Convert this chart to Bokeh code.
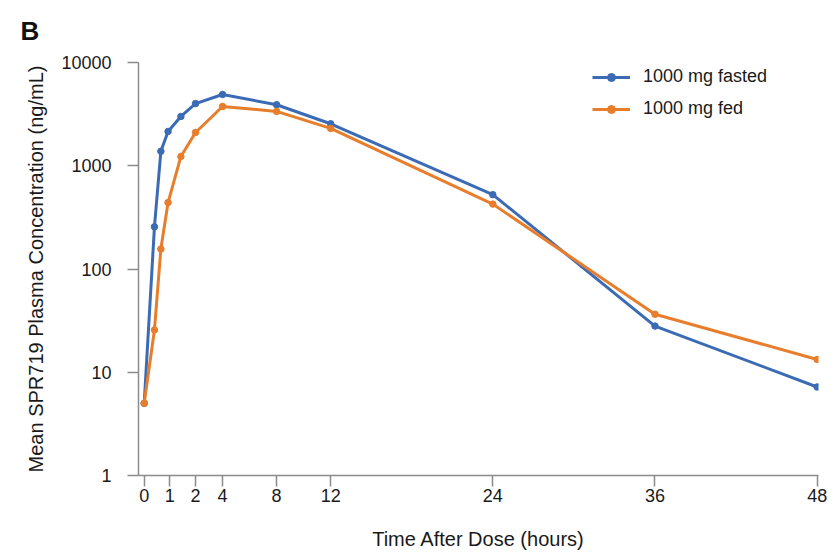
from bokeh.plotting import figure
from bokeh.models import (Range1d, FixedTicker, CustomJSTickFormatter, NumeralTickFormatter,
                          Legend, LegendItem, Title)
from bokeh.embed import file_html
from bokeh.resources import INLINE

# ---- data ----
time_h = [0, 0.4, 0.65, 0.93, 1.43, 2, 4, 8, 12, 24, 36, 48]
fasted = [5.0, 256, 1380, 2150, 3000, 4000, 4900, 3900, 2550, 525, 28.0, 7.2]
fed = [5.0, 25.7, 156, 440, 1230, 2100, 3750, 3360, 2300, 425, 36.5, 13.3]
x_ticks_h = [0, 1, 2, 4, 8, 12, 24, 36, 48]
y_ticks = [1, 10, 100, 1000, 10000]
series_names = ["1000 mg fasted", "1000 mg fed"]
colors = ["#3b6bb4", "#e87d2b"]

# axis is stretched below 2 h (broken-style time scale)
STRETCH = 1.9


def xmap(t):
    return t if t >= 2 else 2 - (2 - t) * STRETCH


FONT = "Liberation Sans"

p = figure(width=839, height=553, y_axis_type="log",
           x_range=Range1d(xmap(0) - 0.42, 48.1), y_range=Range1d(1, 10000),
           output_backend="svg", toolbar_location=None,
           min_border_left=138, min_border_right=21, min_border_top=61, min_border_bottom=78)
p.outline_line_color = None
p.grid.visible = False
p.background_fill_color = "white"

items = []
for name, vals, c in zip(series_names, [fasted, fed], colors):
    xs = [xmap(t) for t in time_h]
    r1 = p.line(xs, vals, line_color=c, line_width=3)
    r2 = p.scatter(xs, vals, size=6.5, fill_color=c, line_color=c)
    items.append(LegendItem(label=name, renderers=[r1, r2]))

legend = Legend(items=items, location=(454, 356), padding=0, margin=0,
                border_line_color=None, background_fill_alpha=0,
                glyph_width=38, glyph_height=20, label_height=20, spacing=11,
                label_standoff=13, label_text_font=FONT, label_text_font_size="18px",
                label_text_color="#1a1a1a")
p.add_layout(legend)

AXIS_COLOR = "#8c8c8c"
for ax in (p.xaxis[0], p.yaxis[0]):
    ax.axis_line_color = AXIS_COLOR
    ax.axis_line_width = 1.5
    ax.major_tick_line_color = AXIS_COLOR
    ax.major_tick_line_width = 1.5
    ax.major_tick_out = 11
    ax.major_tick_in = 0
    ax.minor_tick_line_color = None
    ax.major_label_text_font = FONT
    ax.major_label_text_font_size = "18px"
    ax.major_label_text_color = "#1a1a1a"
    ax.axis_label_text_font = FONT
    ax.axis_label_text_font_size = "20px"
    ax.axis_label_text_font_style = "normal"
    ax.axis_label_text_color = "#1a1a1a"

p.xaxis.ticker = FixedTicker(ticks=[xmap(t) for t in x_ticks_h])
p.xaxis.formatter = CustomJSTickFormatter(
    args=dict(s=STRETCH),
    code="const t = tick >= 2 ? tick : 2 - (2 - tick) / s; return String(Math.round(t));")
p.xaxis.major_label_standoff = 2
p.xaxis.axis_label = "Time After Dose (hours)"
p.xaxis.axis_label_standoff = 23

p.yaxis.ticker = FixedTicker(ticks=y_ticks)
p.yaxis.formatter = NumeralTickFormatter(format="0")
p.yaxis.major_label_standoff = 16
p.yaxis.axis_label = "Mean SPR719 Plasma Concentration (ng/mL)"
p.yaxis.axis_label_standoff = 11

p.add_layout(Title(text="B", align="left", offset=-118, standoff=30, vertical_align="top",
                   text_font=FONT, text_font_size="26px", text_font_style="bold",
                   text_color="#111111"), "above")

open("out.html", "w").write(file_html(p, INLINE))
